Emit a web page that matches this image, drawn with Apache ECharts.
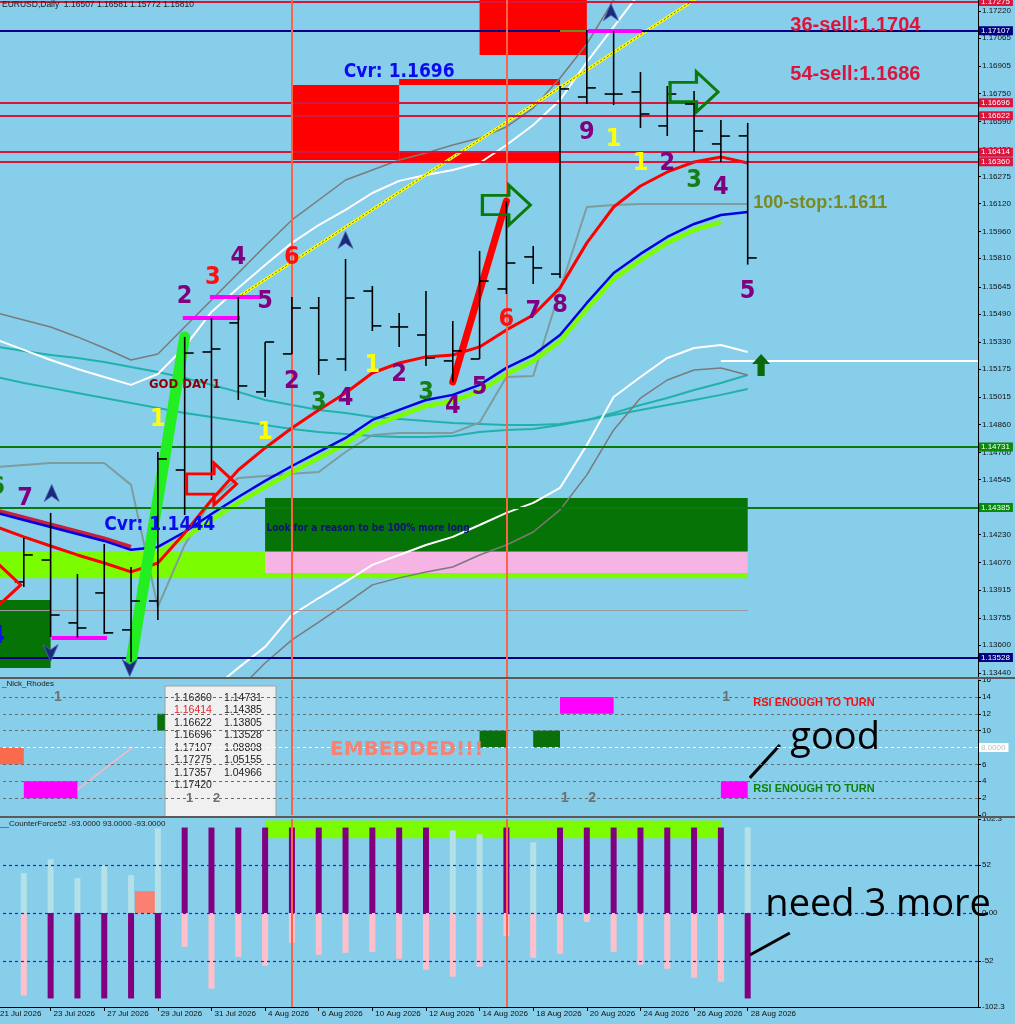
<!DOCTYPE html>
<html><head><meta charset="utf-8">
<script src="https://cdn.jsdelivr.net/npm/echarts@6/dist/echarts.min.js"></script>
<style>html,body{margin:0;padding:0;background:#87CEEB}#c{width:1015px;height:1024px}</style>
</head><body><div id="c"></div>
<script>
// ---------- DATA ----------
const dates = ['21 Jul 2026','22 Jul 2026','23 Jul 2026','24 Jul 2026','27 Jul 2026','28 Jul 2026','29 Jul 2026','30 Jul 2026','31 Jul 2026','3 Aug 2026','4 Aug 2026','5 Aug 2026','6 Aug 2026','7 Aug 2026','10 Aug 2026','11 Aug 2026','12 Aug 2026','13 Aug 2026','14 Aug 2026','17 Aug 2026','18 Aug 2026','19 Aug 2026','20 Aug 2026','21 Aug 2026','24 Aug 2026','25 Aug 2026','26 Aug 2026','27 Aug 2026','28 Aug 2026'];
const dateTicks = [0,2,4,6,8,10,12,14,16,18,20,22,24,26,28];
const priceTicks = [1.17220,1.17065,1.16905,1.16750,1.16590,1.16430,1.16275,1.16120,1.15960,1.15810,1.15645,1.15490,1.15330,1.15175,1.15015,1.14860,1.14700,1.14545,1.14385,1.14230,1.14070,1.13915,1.13755,1.13600,1.13440];
const rsiTicks = [16,14,12,10,6,4,2,0];
const cfTicks = [102.3,52,0,-52,-102.3];

const open  = [null,1.13960,1.14085,1.13726,1.13897,1.13686,1.13851,1.14599,1.15273,1.15439,1.15045,1.15262,1.15524,1.15233,1.15621,1.15416,1.15370,1.15222,1.15233,1.15633,1.15816,1.15718,1.16729,1.16746,1.16758,1.16564,1.16689,1.16461,1.16507];
const high  = [null,1.14211,1.14354,1.14005,1.14177,1.14045,1.14702,1.15359,1.15467,1.15587,1.15330,1.15587,1.15587,1.15804,1.15650,1.15496,1.15621,1.15450,1.15850,1.16135,1.15878,1.16792,1.17112,1.17106,1.16872,1.16792,1.16763,1.16598,1.16581];
const low   = [null,1.13931,1.13646,1.13640,1.13663,1.13503,1.13743,1.14342,1.14542,1.14999,1.15016,1.15262,1.15142,1.15165,1.15393,1.15302,1.15193,1.15102,1.15233,1.15604,1.15661,1.15696,1.16689,1.16683,1.16552,1.16506,1.16415,1.16358,1.15772];
const close = [null,1.14114,1.13771,1.13697,1.13669,1.13851,1.14662,1.15267,1.15290,1.15079,1.15330,1.15524,1.15227,1.15581,1.15422,1.15416,1.15239,1.15279,1.15678,1.15781,1.15753,1.16775,1.16781,1.16746,1.16632,1.16746,1.16535,1.16506,1.15810];

const maRed  = [1.14274,1.14217,1.14165,1.14114,1.14068,1.14017,1.14068,1.14240,1.14428,1.14599,1.14725,1.14839,1.14942,1.15039,1.15153,1.15210,1.15245,1.15256,1.15302,1.15399,1.15484,1.15639,1.15896,1.16101,1.16221,1.16301,1.16358,1.16387,1.16352];
const maBlue = [1.14354,1.14314,1.14274,1.14234,1.14194,1.14143,1.14160,1.14245,1.14348,1.14445,1.14537,1.14622,1.14702,1.14782,1.14885,1.14942,1.14999,1.15028,1.15085,1.15182,1.15256,1.15370,1.15553,1.15724,1.15833,1.15930,1.16004,1.16055,1.16073];
const maLime = [null,null,null,null,null,null,1.14131,1.14211,1.14314,1.14411,1.14502,1.14588,1.14668,1.14748,1.14851,1.14908,1.14965,1.14993,1.15050,1.15147,1.15222,1.15336,1.15519,1.15690,1.15798,1.15896,1.15970,1.16015,null];
const maCrimson = [1.14368,1.14328,1.14288,1.14248,1.14208,1.14160];
const bandUpWhite = [1.15342,1.15285,1.15227,1.15176,1.15130,1.15085,1.15147,1.15302,1.15502,1.15639,1.15770,1.15896,1.15998,1.16084,1.16181,1.16250,1.16284,1.16312,1.16352,1.16455,1.16569,1.16712,1.16929,1.17129,1.17330];
const bandUpGrey  = [1.15496,1.15456,1.15416,1.15359,1.15296,1.15227,1.15262,1.15416,1.15570,1.15724,1.15878,1.16027,1.16141,1.16255,1.16312,1.16369,1.16409,1.16455,1.16495,1.16558,1.16666,1.16838,1.17032,1.17283,1.17500];
const bandLowWhite = [null,null,null,null,null,null,null,null,1.13343,1.13469,1.13589,1.13771,1.13868,1.13960,1.14057,1.14114,1.14171,1.14217,1.14285,1.14354,1.14411,1.14497,1.14742,1.15016,1.15130,1.15239,1.15296,1.15313,1.15273];
const bandLowGrey  = [null,null,null,null,null,null,null,null,null,1.13343,1.13497,1.13629,1.13731,1.13834,1.13943,1.13983,1.14017,1.14045,1.14114,1.14171,1.14245,1.14371,1.14571,1.14828,1.15010,1.15113,1.15170,1.15182,1.15142];
const stepLine = [1.14616,1.14628,1.14639,1.14639,1.14639,1.14514,1.13817,1.14171,1.14428,1.14554,1.14565,1.14577,1.14588,1.14702,1.14799,1.14811,1.14811,1.14811,1.14870,1.15130,1.15136,1.15627,1.16101,1.16112,1.16118,1.16118,1.16118,1.16118,1.16118];
const tealA = [1.15302,1.15279,1.15256,1.15239,1.15216,1.15187,1.15159,1.15125,1.15085,1.15045,1.14999,1.14970,1.14942,1.14925,1.14902,1.14891,1.14879,1.14868,1.14862,1.14856,1.14856,1.14862,1.14885,1.14925,1.14970,1.15010,1.15056,1.15096,1.15142];
const tealB = [1.15130,1.15096,1.15068,1.15039,1.15010,1.14982,1.14953,1.14925,1.14902,1.14879,1.14856,1.14833,1.14816,1.14805,1.14793,1.14788,1.14788,1.14793,1.14816,1.14828,1.14833,1.14856,1.14885,1.14913,1.14942,1.14970,1.14999,1.15028,1.15062];

const trendLine = [[9,1.15587],[28.6,1.17543]];
const greenSpike = [[5,1.13503],[7,1.15359]];
const redSpike = [[17,1.15102],[19,1.16135]];
const magentaSegs = [[[6.93,1.15467],[9.06,1.15467]],[[7.94,1.15587],[9.8,1.15587]],[[2.04,1.13640],[4.1,1.13640]],[[22.04,1.17106],[24.05,1.17106]]];
const oliveSeg = [[21,1.17106],[22.04,1.17106]];

const sellLevels = [1.17275,1.16696,1.16622,1.16414,1.16360];
const navyLevels = [1.17107,1.13528];
const buyLevels = [1.14731,1.14385];
const lastClose = 1.15810;
const greyLevel = 1.13800;
const whiteLevel = 1.15222;
const vLines = [11,19];

// zones [x1,y1,x2,y2]
const limeZone = [0,1.14133,28,1.13981];
const pinkZone = [10,1.14133,28,1.14011];
const longZone = [10,1.14439,28,1.14133];
const leftGreenZone = [0,1.13857,2.0,1.13469];
const redTopZone = [18,1.17283,22,1.16969];
const redBigZone = [11.03,1.16798,15,1.16369];
const redBandZone = [15,1.16409,21,1.16358];
const redBarZone = [15,1.16832,21,1.16798];

const numsPurple = [[7,1.15587,'2'],[9,1.15810,'4'],[10,1.15559,'5'],[11,1.15102,'2'],[13,1.15010,'4'],[15,1.15142,'2'],[17,1.14959,'4'],[18,1.15068,'5'],[20,1.15502,'7'],[21,1.15541,'8'],[22,1.16529,'9'],[25,1.16352,'2'],[27,1.16210,'4'],[28,1.15616,'5'],[1.05,1.14439,'7']];
const numsRed = [[8.05,1.15696,'3'],[11,1.15810,'6'],[19,1.15456,'6']];
const numsGreen = [[12,1.14982,'3'],[16,1.15039,'3'],[26,1.16255,'3'],[0.0,1.14497,'6']];
const numsYellow = [[14,1.15193,'1'],[23,1.16484,'1'],[24,1.16352,'1'],[6,1.14885,'1'],[10,1.14816,'1']];
const numsBlue = [[0.0,1.13646,'4']];
const cvrLabels = [[6.07,1.14285,'Cvr: 1.1444'],[15.0,1.16872,'Cvr: 1.1696']];
const sellLabels = [[29.57,1.17140,'36-sell:1.1704'],[29.57,1.16855,'54-sell:1.1686']];
const stopLabels = [[28.19,1.16124,'100-stop:1.1611']];
const godLabels = [[7.0,1.15085,'GOD DAY 1']];
const lookLabels = [[10.03,1.14268,'Look for a reason to be 100% more long']];
const rightArrowsRed = [[8.0,1.14519],[-0.05,1.13943]];
const rightArrowsGreen = [[19.0,1.16112],[26.0,1.16758]];
const upArrowsNavy = [[2.04,1.14468],[13.0,1.15913],[22.9,1.17214]];
const downArrowsNavy = [[4.95,1.13469],[2.0,1.13554]];
const upArrowGreen = [[28.5,1.15199]];

// Nick_Rhodes panel
const rsiGrid = [14,12,10,6,4,2];
const rsiLevel = 8;
const rsiBoxes = [
  {r:[-1,8,1.0,6], c:'#FA6A4C'},
  {r:[1.0,4,3.0,2], c:'#FF00FF'},
  {r:[5.98,12,6.26,10], c:'#0A700A'},
  {r:[18,10,19,8], c:'#0A700A'},
  {r:[20,10,21,8], c:'#0A700A'},
  {r:[21,14,23,12], c:'#FF00FF'},
  {r:[27,4,28,2], c:'#FF00FF'}
];
const rsiPinkLine = [[3.0,3.0],[5.07,8.06]];
const rsiGreyNums = [[2.27,14,'1'],[27.2,14,'1'],[21.18,2,'1'],[22.2,2,'2']];
const rsiEmbedded = [[15.28,7.7,'EMBEDDED!!!']];
const rsiRedNote = [[28.19,13.3,'RSI ENOUGH TO TURN']];
const rsiGreenNote = [[28.19,3.1,'RSI ENOUGH TO TURN']];
const goodNote = [[29.57,9.1,'good']];
const goodStroke = [[28.08,4.4],[29.2,8.3]];
const tableCol1 = ['1.16360','1.16414','1.16622','1.16696','1.17107','1.17275','1.17357','1.17420'];
const tableCol2 = ['1.14731','1.14385','1.13805','1.13528','1.08808','1.05155','1.04966'];

// CounterForce52 panel
const cfPurpleUp   = [null,null,null,null,null,null,null,93,93,93,93,93,93,93,93,93,93,null,null,93,null,93,93,93,93,93,93,93,null];
const cfLightUp    = [49.8,43.3,58.5,37.9,52,41.2,92.1,null,null,null,null,null,null,null,null,null,null,89.9,85.6,null,76.9,null,null,null,null,null,null,null,93.2];
const cfPinkDown   = [-85.6,-89.9,null,null,null,null,null,-36.8,-82.3,-47.7,-57.4,-32.5,-45.5,-43.3,-42.3,-49.8,-61.8,-69.3,-58.5,-24.9,-48.8,-44.4,-9.8,-42.3,-56.3,-60.7,-70.4,-74.8,null];
const cfPurpleDown = [null,null,-93,-93,-93,-93,-93,null,null,null,null,null,null,null,null,null,null,null,null,null,null,null,null,null,null,null,null,null,-93];
const cfLevels = [52,0,-52];
const cfLimeZone = [10,100.8,27,81.3];
const cfSalmonZone = [5.14,23.8,5.89,0];
const needNote = [[28.64,8.7,'need 3 more']];
const needStroke = [[28.08,-45.7],[29.57,-21.8]];

// ---------- CHART ----------
const FONT = '"Liberation Sans", Arial, sans-serif';
const NARROW = '"Liberation Sans Narrow", "Arial Narrow", "DejaVu Sans Condensed", "Liberation Sans", sans-serif';
const X_MAX = 36.59;
const idx = a => a.map((v,i)=> v==null ? null : [i,v]).filter(Boolean);

function xAxisFor(g, show){
  return {type:'value', gridIndex:g, min:0, max:X_MAX, show:show,
    axisLine:{show:show, onZero:false, lineStyle:{color:'#000',width:1}},
    axisTick:{show:show, customValues:dateTicks, length:4, lineStyle:{color:'#000'}},
    axisLabel:{show:show, customValues:dateTicks, formatter:v=>dates[Math.round(v)]||'', align:'left', padding:[0,0,0,3], fontSize:8, color:'#111', margin:3, fontFamily:FONT},
    splitLine:{show:false}};
}
function yAxisFor(g, min, max, ticks, fmt){
  return {type:'value', gridIndex:g, position:'right', min:min, max:max,
    axisLine:{show:true, onZero:false, lineStyle:{color:'#000',width:1}},
    axisTick:{show:true, customValues:ticks, length:3, lineStyle:{color:'#000'}},
    axisLabel:{customValues:ticks, formatter:fmt, fontSize:8, color:'#111', margin:4, fontFamily:FONT},
    splitLine:{show:false}};
}
function zone(r, color){ return [{coord:[r[0],r[1]], itemStyle:{color:color, opacity:1}},{coord:[r[2],r[3]]}]; }
function lineS(g, data, color, width, z, extra){
  return Object.assign({type:'line', xAxisIndex:g, yAxisIndex:g, data:data, symbol:'none', silent:true, animation:false, z:z||3,
    lineStyle:{color:color, width:width}}, extra||{});
}
function textS(g, arr, label, z){
  return {type:'scatter', xAxisIndex:g, yAxisIndex:g, symbolSize:1, clip:false, itemStyle:{color:'rgba(0,0,0,0)', opacity:1}, silent:true, animation:false, z:z||10,
    emphasis:{disabled:true},
    data: arr.map(a=>({value:[a[0],a[1]], label:{formatter:a[2]}})),
    label:Object.assign({show:true, position:'inside', opacity:1}, label)};
}
function symS(g, arr, symbol, size, style, z, rot){
  return {type:'scatter', xAxisIndex:g, yAxisIndex:g, symbol:symbol, symbolSize:size, symbolRotate:rot||0, clip:false, silent:true, animation:false, z:z||9,
    emphasis:{disabled:true},
    data: arr.map(a=>[a[0],a[1]]), itemStyle:Object.assign({opacity:1}, style)};
}
function levelLabel(v, color){
  return {show:true, position:'end', formatter:v.toFixed(5), backgroundColor:color, color:'#fff', fontSize:8, padding:[1,3,0,2], distance:1, fontFamily:FONT};
}

const numLabel = c => ({color:c, fontSize:25, fontWeight:'bold', fontFamily:NARROW});
const arrowPath = 'path://M0,2.6 L5.5,2.6 L5.5,0 L10,5 L5.5,10 L5.5,7.4 L0,7.4 Z';
const stealthPath = 'path://M5,0 L10,13 L5,9 L0,13 Z';
const upPath = 'path://M5,0 L10,5 L7,5 L7,11 L3,11 L3,5 L0,5 Z';

const series = [];
// Price level lines (behind zones)
series.push({type:'line', xAxisIndex:0, yAxisIndex:0, data:[], silent:true, animation:false, z:1,
  markLine:{symbol:['none','none'], silent:true, animation:false, precision:6,
    data:[].concat(
      sellLevels.map(v=>({yAxis:v, lineStyle:{color:'#DC143C', width:2, type:'solid'}, label:levelLabel(v,'#DC143C')})),
      navyLevels.map(v=>({yAxis:v, lineStyle:{color:'#000080', width:2, type:'solid'}, label:levelLabel(v,'#000080')})),
      buyLevels.map(v=>({yAxis:v, lineStyle:{color:'#0A7A0A', width:2, type:'solid'}, label:levelLabel(v,'#0A8A0A')})),
      [{yAxis:lastClose, lineStyle:{opacity:0}, label:levelLabel(lastClose,'#000')}],
      [[{coord:[0,greyLevel], lineStyle:{color:'#9A9A9A', width:1, type:'solid'}, label:{show:false}},{coord:[28,greyLevel]}]],
      [[{coord:[27,whiteLevel], lineStyle:{color:'#FFFFFF', width:2, type:'solid'}, label:{show:false}},{coord:[X_MAX,whiteLevel]}]],
      vLines.map(v=>({xAxis:v, lineStyle:{color:'#FF6347', width:2, type:'solid'}, label:{show:false}}))
    )}
});
// Zones
series.push({type:'line', xAxisIndex:0, yAxisIndex:0, data:[], silent:true, animation:false, z:2,
  markArea:{silent:true, animation:false, data:[
    zone(limeZone,'#7CFC00'), zone(pinkZone,'#F5B4E4'), zone(longZone,'#067306'), zone(leftGreenZone,'#067306'),
    zone(redTopZone,'#FF0000'), zone(redBigZone,'#FF0000'), zone(redBandZone,'#FF0000'), zone(redBarZone,'#FF0000')
  ]}});
// Indicator lines
series.push(lineS(0, idx(tealA), '#20B2AA', 2, 3));
series.push(lineS(0, idx(tealB), '#20B2AA', 2, 3));
series.push(lineS(0, idx(bandUpGrey), '#7A7A7A', 1.5, 3));
series.push(lineS(0, idx(bandUpWhite), '#FFFFFF', 2, 3));
series.push(lineS(0, idx(bandLowGrey), '#7A7A7A', 1.5, 3));
series.push(lineS(0, idx(bandLowWhite), '#FFFFFF', 2, 3));
series.push(lineS(0, idx(stepLine), '#7E9C9C', 2, 3));
series.push(lineS(0, idx(maCrimson), '#C8203C', 4, 3));
series.push(lineS(0, idx(maLime), '#7CFC00', 4.5, 3));
series.push(lineS(0, idx(maBlue), '#0000E0', 2.5, 4));
series.push(lineS(0, idx(maRed), '#FF0000', 3, 4));
series.push(lineS(0, trendLine, '#FFFF00', 3, 4));
series.push(lineS(0, trendLine, '#404040', 0.8, 4, {lineStyle:{color:'#3A3A20', width:0.8, type:[2,2]}}));
series.push(lineS(0, greenSpike, '#22EE22', 11, 5, {lineStyle:{color:'#22EE22', width:11, cap:'round'}}));
series.push(lineS(0, redSpike, '#FF0000', 7, 5, {lineStyle:{color:'#FF0000', width:7, cap:'round'}}));
magentaSegs.forEach(s=>series.push(lineS(0, s, '#FF00FF', 4, 5)));
series.push(lineS(0, oliveSeg, '#6B8E23', 2, 5));
// OHLC bars
series.push({type:'custom', xAxisIndex:0, yAxisIndex:0, silent:true, animation:false, z:6,
  data: open.map((o,i)=> o==null ? null : [i,o,high[i],low[i],close[i]]).filter(Boolean),
  encode:{x:0, y:[1,2,3,4]},
  renderItem:(params, api)=>{
    const x = api.value(0);
    const ph = api.coord([x, api.value(2)]), pl = api.coord([x, api.value(3)]);
    const po = api.coord([x, api.value(1)]), pc = api.coord([x, api.value(4)]);
    const st = {stroke:'#000', lineWidth:1.6};
    return {type:'group', children:[
      {type:'line', shape:{x1:ph[0], y1:ph[1], x2:pl[0], y2:pl[1]}, style:st},
      {type:'line', shape:{x1:po[0]-9, y1:po[1], x2:po[0], y2:po[1]}, style:st},
      {type:'line', shape:{x1:pc[0], y1:pc[1], x2:pc[0]+9, y2:pc[1]}, style:st}
    ]};
  }});
// Arrows
series.push(symS(0, rightArrowsRed, arrowPath, [50,42], {color:'rgba(0,0,0,0)', borderColor:'#FF0000', borderWidth:3}, 8));
series.push(symS(0, rightArrowsGreen, arrowPath, [48,40], {color:'rgba(0,0,0,0)', borderColor:'#0A7A0A', borderWidth:3}, 8));
series.push(symS(0, upArrowsNavy, stealthPath, [15,17], {color:'#1A2A7A', borderColor:'#5060B0', borderWidth:0.8}, 8));
series.push(symS(0, downArrowsNavy, stealthPath, [15,17], {color:'#1A2A7A', borderColor:'#5060B0', borderWidth:0.8}, 8, 180));
series.push(symS(0, upArrowGreen, upPath, [18,22], {color:'#0A6A0A'}, 8));
// Texts
series.push(textS(0, numsPurple, numLabel('#800080')));
series.push(textS(0, numsRed, numLabel('#FF1010')));
series.push(textS(0, numsGreen, numLabel('#157F15')));
series.push(textS(0, numsYellow, numLabel('#FFFF00')));
series.push(textS(0, numsBlue, numLabel('#1010E8')));
series.push(textS(0, cvrLabels, {color:'#0A0AF0', fontSize:19, fontWeight:'bold', fontFamily:NARROW}));
series.push(textS(0, godLabels, {color:'#8B0000', fontSize:13, fontWeight:'bold', fontFamily:NARROW}));
series.push(textS(0, lookLabels, {color:'#10107F', fontSize:10, fontWeight:'bold', fontFamily:NARROW, position:'right', distance:0}));
series.push(textS(0, sellLabels, {color:'#DC143C', fontSize:20, fontWeight:'bold', fontFamily:FONT, position:'right', distance:0}));
series.push(textS(0, stopLabels, {color:'#7A8A22', fontSize:18, fontWeight:'bold', fontFamily:FONT, position:'right', distance:0}));

// Panel 2: Nick_Rhodes
series.push({type:'line', xAxisIndex:1, yAxisIndex:1, data:[], silent:true, animation:false, z:2,
  markArea:{silent:true, animation:false, data: rsiBoxes.map(b=>zone(b.r,b.c))}});
series.push({type:'line', xAxisIndex:1, yAxisIndex:1, data:[], silent:true, animation:false, z:3,
  markLine:{symbol:['none','none'], silent:true, animation:false, precision:4, data:[].concat(
    rsiGrid.map(v=>({yAxis:v, lineStyle:{color:'#6A6A6A', width:1, type:[3,3]}, label:{show:false}})),
    [{yAxis:rsiLevel, lineStyle:{color:'#FFFFFF', width:1, type:[3,3]}, label:{show:true, position:'end', formatter:rsiLevel.toFixed(4), backgroundColor:'#FFFFFF', color:'#C0C0C0', fontSize:8, padding:[1,3,0,2], distance:1, fontFamily:FONT}}],
    vLines.map(v=>({xAxis:v, lineStyle:{color:'#FF6347', width:2, type:'solid'}, label:{show:false}}))
  )}});
series.push(lineS(1, rsiPinkLine, '#FFB6C1', 1.5, 4));
series.push(lineS(1, goodStroke, '#000000', 3, 4));
series.push(textS(1, rsiGreyNums, {color:'#707070', fontSize:14, fontWeight:'bold', fontFamily:FONT}));
series.push(textS(1, rsiEmbedded, {color:'#FA8072', fontSize:20, fontWeight:'bold', fontFamily:'"DejaVu Sans", sans-serif'}));
series.push(textS(1, rsiRedNote, {color:'#F01010', fontSize:11, fontWeight:'bold', fontFamily:FONT, position:'right', distance:0}));
series.push(textS(1, rsiGreenNote, {color:'#108010', fontSize:11, fontWeight:'bold', fontFamily:FONT, position:'right', distance:0}));
series.push(textS(1, goodNote, {color:'#000000', fontSize:38, fontWeight:'normal', fontFamily:'"Open Sans", "Noto Sans", sans-serif', position:'right', distance:0}));

// Panel 3: CounterForce52
series.push({type:'line', xAxisIndex:2, yAxisIndex:2, data:[], silent:true, animation:false, z:1,
  markArea:{silent:true, animation:false, data:[zone(cfLimeZone,'#7CFC00'), zone(cfSalmonZone,'#FA8072')]}});
const barS = (arr,color)=>({type:'bar', xAxisIndex:2, yAxisIndex:2, data:idx(arr), barWidth:6, barGap:'-100%', silent:true, animation:false, z:3, itemStyle:{color:color, opacity:1}});
series.push(barS(cfLightUp,'#B4E0E8'));
series.push(barS(cfPinkDown,'#FFC0CB'));
series.push(barS(cfPurpleUp,'#800080'));
series.push(barS(cfPurpleDown,'#800080'));
series.push({type:'line', xAxisIndex:2, yAxisIndex:2, data:[], silent:true, animation:false, z:5,
  markLine:{symbol:['none','none'], silent:true, animation:false, precision:2, data:[].concat(
    cfLevels.map(v=>({yAxis:v, lineStyle:{color:'#1E1EFF', width:1.2, type:[3,3]}, label:{show:false}})),
    vLines.map(v=>({xAxis:v, lineStyle:{color:'#FF6347', width:2, type:'solid'}, label:{show:false}}))
  )}});
series.push(lineS(2, needStroke, '#000000', 3, 6));
series.push(textS(2, needNote, {color:'#000000', fontSize:38, fontWeight:'normal', fontFamily:'"Open Sans", "Noto Sans", sans-serif', position:'right', distance:0}));

// Table overlay (text panel)
const graphic = [
  {type:'rect', shape:{x:165, y:686, width:111, height:131}, style:{fill:'#F0F0F0', stroke:'#A0A0A0', lineWidth:1}, z:0, silent:true},
  {type:'rect', shape:{x:0, y:677, width:1015, height:2}, style:{fill:'#5A5A5A'}, z:100, silent:true},
  {type:'rect', shape:{x:0, y:816, width:1015, height:2}, style:{fill:'#5A5A5A'}, z:100, silent:true}
];
tableCol1.forEach((t,i)=>graphic.push({type:'text', x:174, y:698+i*12.5, style:{text:t, fill: i===1?'#E8202A':'#202020', font:'10.5px '+FONT, verticalAlign:'middle'}, z:1, silent:true}));
tableCol2.forEach((t,i)=>graphic.push({type:'text', x:224, y:698+i*12.5, style:{text:t, fill:'#202020', font:'10.5px '+FONT, verticalAlign:'middle'}, z:1, silent:true}));
graphic.push({type:'text', x:186, y:798, style:{text:'1', fill:'#707070', font:'bold 13px '+FONT, verticalAlign:'middle'}, z:1, silent:true});
graphic.push({type:'text', x:213, y:798, style:{text:'2', fill:'#707070', font:'bold 13px '+FONT, verticalAlign:'middle'}, z:1, silent:true});

const option = {
  backgroundColor:'#87CEEB',
  animation:false,
  textStyle:{fontFamily:FONT},
  title:[
    {text:'EURUSD,Daily  1.16507 1.16581 1.15772 1.15810', left:2, top:0, padding:0, textStyle:{fontSize:8.5, fontWeight:'normal', color:'#202020', fontFamily:FONT}},
    {text:'_Nick_Rhodes', left:2, top:680, padding:0, textStyle:{fontSize:8, fontWeight:'normal', color:'#202020', fontFamily:FONT}},
    {text:'__CounterForce52 -93.0000 93.0000 -93.0000', left:0, top:820, padding:0, textStyle:{fontSize:8, fontWeight:'normal', color:'#202020', fontFamily:FONT}}
  ],
  grid:[
    {left:-3, right:37, top:0, height:677, outerBoundsMode:'none', containLabel:false},
    {left:-3, right:37, top:680, height:135, outerBoundsMode:'none', containLabel:false},
    {left:-3, right:37, top:819, height:188, outerBoundsMode:'none', containLabel:false}
  ],
  xAxis:[xAxisFor(0,false), xAxisFor(1,false), xAxisFor(2,true)],
  yAxis:[
    yAxisFor(0, 1.13417, 1.17283, priceTicks, v=>v.toFixed(5)),
    yAxisFor(1, 0, 16, rsiTicks, v=>String(v)),
    yAxisFor(2, -102.3, 102.3, cfTicks, v=> v===0 ? '0.00' : String(v))
  ],
  graphic: graphic,
  series: series
};
const chart = echarts.init(document.getElementById('c'));
chart.setOption(option);
</script></body></html>
